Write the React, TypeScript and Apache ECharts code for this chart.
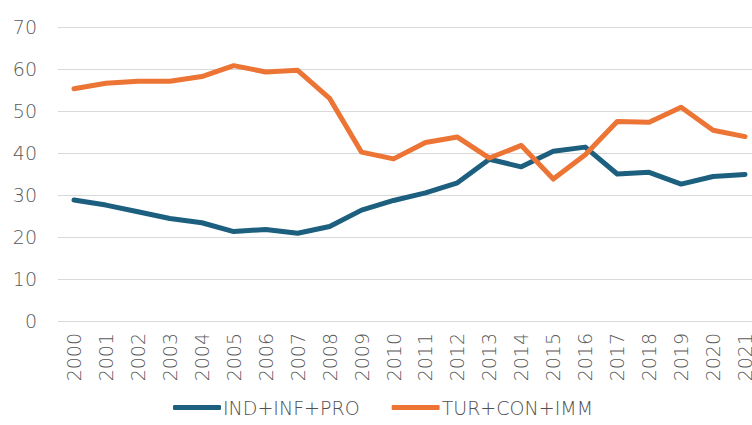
import React, { useEffect, useRef } from "react";
import * as echarts from "echarts";

const years = ["2000","2001","2002","2003","2004","2005","2006","2007","2008","2009","2010","2011","2012","2013","2014","2015","2016","2017","2018","2019","2020","2021"];
const indInfPro = [28.8, 27.6, 26.0, 24.4, 23.4, 21.3, 21.8, 20.9, 22.5, 26.4, 28.7, 30.5, 32.9, 38.5, 36.7, 40.4, 41.4, 35.0, 35.4, 32.6, 34.4, 34.9];
const turConImm = [55.3, 56.6, 57.1, 57.1, 58.2, 60.8, 59.3, 59.7, 53.0, 40.2, 38.6, 42.5, 43.8, 38.8, 41.8, 33.8, 39.6, 47.5, 47.3, 50.9, 45.4, 43.9];
const seriesNames = ["IND+INF+PRO", "TUR+CON+IMM"];
const yTicks = { min: 0, max: 70, interval: 10 };

export default function App() {
  const ref = useRef<HTMLDivElement>(null);
  useEffect(() => {
    if (!ref.current) return;
    const chart = echarts.init(ref.current, null, { renderer: "svg" });
    const font = "'DejaVu Sans', sans-serif";
    chart.setOption({
      animation: false,
      backgroundColor: "#ffffff",
      grid: { left: 58, width: 703, top: 27, height: 294, containLabel: false, outerBoundsMode: "none" },
      legend: {
        bottom: 3,
        left: 168,
        icon: "roundRect",
        itemWidth: 48,
        itemHeight: 5,
        itemGap: 32,
        textStyle: { fontFamily: font, fontWeight: 200, fontSize: 19, color: "#505050", padding: [0, 0, 0, -3] },
        data: seriesNames,
      },
      xAxis: {
        type: "category",
        data: years,
        boundaryGap: true,
        axisLine: { show: false },
        axisTick: { show: false },
        axisLabel: { rotate: 90, fontFamily: font, fontWeight: 200, fontSize: 19, color: "#595959", margin: 12 },
      },
      yAxis: {
        type: "value",
        min: yTicks.min,
        max: yTicks.max,
        interval: yTicks.interval,
        axisLine: { show: false },
        axisTick: { show: false },
        axisLabel: { fontFamily: font, fontWeight: 200, fontSize: 19, color: "#595959", margin: 21 },
        splitLine: { lineStyle: { color: "#d9d9d9", width: 1 } },
      },
      series: [
        {
          name: seriesNames[0],
          type: "line",
          data: indInfPro,
          symbol: "none",
          lineStyle: { color: "#1c5f7f", width: 5, cap: "round", join: "round" },
          itemStyle: { color: "#1c5f7f" },
        },
        {
          name: seriesNames[1],
          type: "line",
          data: turConImm,
          symbol: "none",
          lineStyle: { color: "#ec7535", width: 5, cap: "round", join: "round" },
          itemStyle: { color: "#ec7535" },
        },
      ],
    });
    return () => chart.dispose();
  }, []);
  return <div ref={ref} style={{ width: 752, height: 425, position: "absolute", left: 0, top: 0 }} />;
}
